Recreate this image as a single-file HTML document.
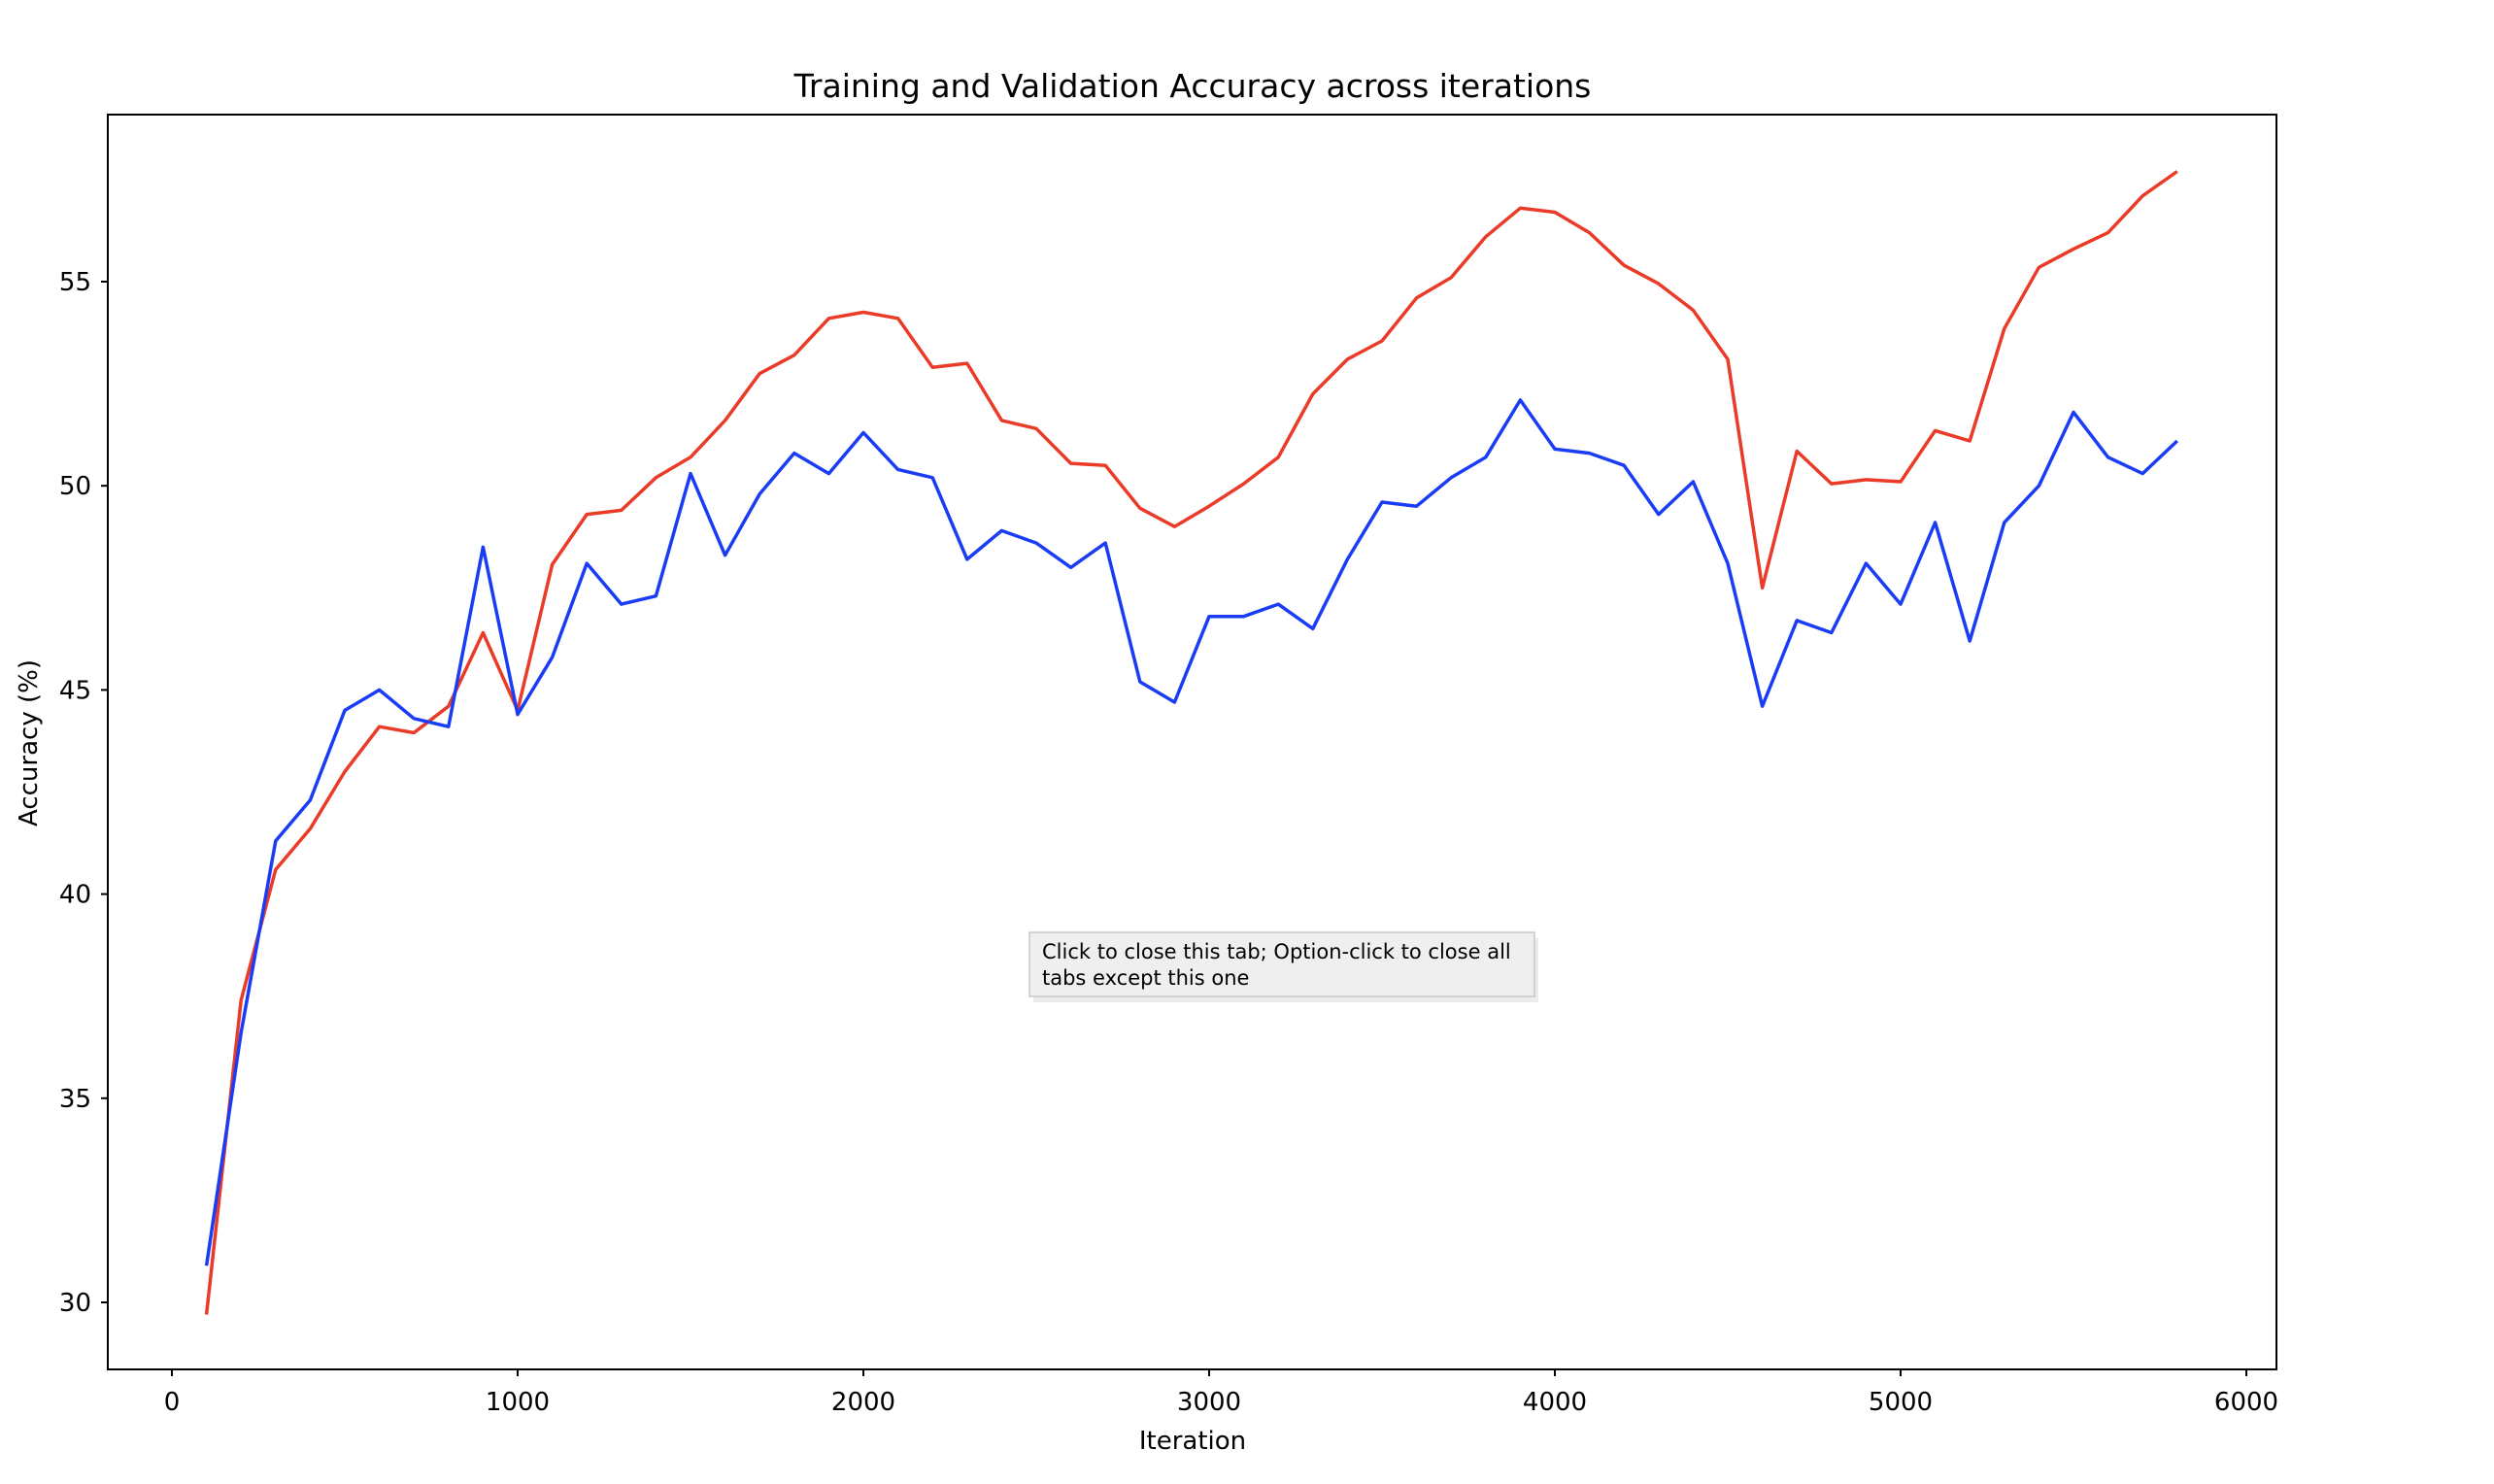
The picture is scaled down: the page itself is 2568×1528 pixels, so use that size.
<!DOCTYPE html>
<html><head><meta charset="utf-8"><style>
html,body{margin:0;padding:0;background:#fff;}
svg{display:block;font-family:"DejaVu Sans","Liberation Sans",sans-serif;}
</style></head><body>
<svg id="chart" width="2568" height="1528" viewBox="0 0 2568 1528">
<rect x="0" y="0" width="2568" height="1528" fill="#fff"/>
<text x="1228" y="100" font-size="33" text-anchor="middle">Training and Validation Accuracy across iterations</text>
<g id="xticks"></g>
<g id="yticks"></g>
<g id="series"></g>
<rect x="111" y="118" width="2233" height="1292" fill="none" stroke="#000" stroke-width="2"/>
<text x="1228" y="1492" font-size="26" text-anchor="middle">Iteration</text>
<text transform="translate(38,765) rotate(-90)" font-size="26" text-anchor="middle">Accuracy (%)</text>
<g>
<rect x="1062" y="962" width="520" height="66" fill="#000" opacity="0.08" transform="translate(2,4)"/>
<rect x="1060" y="960" width="520" height="66" fill="#efefef" stroke="#c8c8c8" stroke-width="1.5"/>
<text x="1073" y="987" font-size="21">Click to close this tab; Option-click to close all</text>
<text x="1073" y="1014" font-size="21">tabs except this one</text>
</g>
</svg>
<script>
const iterations = [100,200,300,400,500,600,700,800,900,1000,1100,1200,1300,1400,1500,1600,1700,1800,1900,2000,2100,2200,2300,2400,2500,2600,2700,2800,2900,3000,3100,3200,3300,3400,3500,3600,3700,3800,3900,4000,4100,4200,4300,4400,4500,4600,4700,4800,4900,5000,5100,5200,5300,5400,5500,5600,5700,5800];
const trainAcc = [29.7,37.4,40.6,41.6,43.0,44.1,43.95,44.6,46.4,44.5,48.07,49.3,49.4,50.2,50.7,51.6,52.75,53.2,54.1,54.25,54.1,52.9,53.0,51.6,51.4,50.55,50.5,49.45,49.0,49.5,50.05,50.7,52.25,53.1,53.55,54.6,55.1,56.1,56.8,56.7,56.2,55.4,54.95,54.3,53.1,47.5,50.85,50.05,50.15,50.1,51.35,51.1,53.85,55.35,55.8,56.2,57.1,57.7];
const valAcc = [30.9,36.6,41.3,42.3,44.5,45.0,44.3,44.1,48.5,44.4,45.8,48.1,47.1,47.3,50.3,48.3,49.8,50.8,50.3,51.3,50.4,50.2,48.2,48.9,48.6,48.0,48.6,45.2,44.7,46.8,46.8,47.1,46.5,48.2,49.6,49.5,50.2,50.7,52.1,50.9,50.8,50.5,49.3,50.1,48.1,44.6,46.7,46.4,48.1,47.1,49.1,46.2,49.1,50.0,51.8,50.7,50.3,51.1];
const xTickVals = [0,1000,2000,3000,4000,5000,6000];
const yTickVals = [30,35,40,45,50,55];

const NS = "http://www.w3.org/2000/svg";
function xs(v){ return 177 + (v - 0) * (2313 - 177) / 6000; }
function ys(v){ return 1341 - (v - 30) * (1341 - 290) / 25; }
function mk(tag, attrs, parent){ const e = document.createElementNS(NS, tag); for (const k in attrs) e.setAttribute(k, attrs[k]); parent.appendChild(e); return e; }

const gx = document.getElementById('xticks');
xTickVals.forEach(v => {
  const t = mk('line', {x1: xs(v), x2: xs(v), y1: 1410, y2: 1417, stroke: '#000', 'stroke-width': 2}, gx);
  
  
  const l = mk('text', {x: xs(v), y: 1452, 'font-size': 26, 'text-anchor': 'middle'}, gx);
  l.textContent = v;
  
  
});
const gy = document.getElementById('yticks');
yTickVals.forEach(v => {
  const t = mk('line', {x1: 104, x2: 111, y1: ys(v), y2: ys(v), stroke: '#000', 'stroke-width': 2}, gy);
  
  
  const l = mk('text', {x: 94, y: ys(v) + 9, 'font-size': 26, 'text-anchor': 'end'}, gy);
  l.textContent = v;
  
  
});
const gs = document.getElementById('series');
function pts(arr){ return arr.map((v, i) => xs(iterations[i]).toFixed(1) + ',' + ys(v).toFixed(1)).join(' '); }
const tr = mk('polyline', {points: pts(trainAcc), fill: 'none', stroke: '#ea3a28', 'stroke-width': 3.5, 'stroke-linejoin': 'round'}, gs);


const va = mk('polyline', {points: pts(valAcc), fill: 'none', stroke: '#1a3cf5', 'stroke-width': 3.5, 'stroke-linejoin': 'round'}, gs);


</script>
</body></html>
